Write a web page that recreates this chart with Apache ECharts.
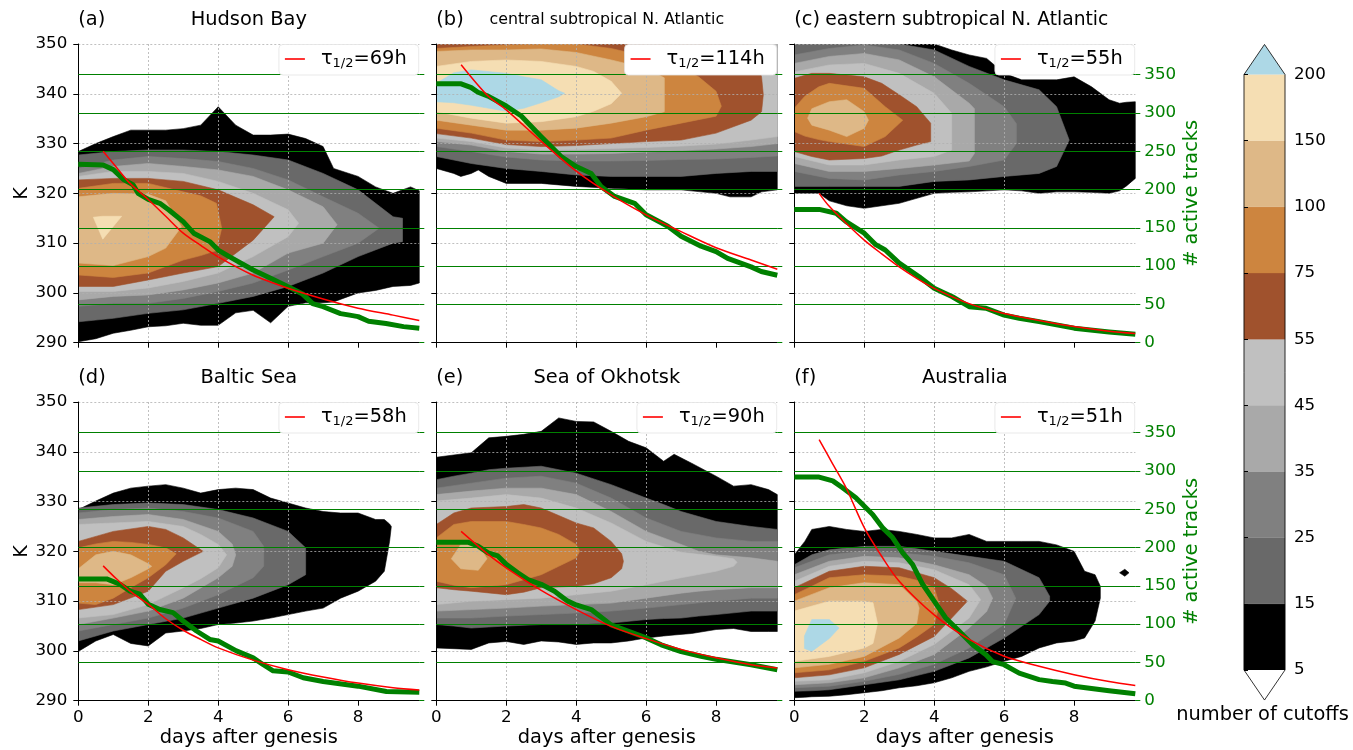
<!DOCTYPE html>
<html>
<head>
<meta charset="utf-8">
<script src="https://cdn.jsdelivr.net/npm/echarts@6/dist/echarts.min.js"></script>
<style>
html,body{margin:0;padding:0;background:#fff;}
#chart{width:1353px;height:750px;}
</style>
</head>
<body>
<div id="chart"></div>
<script>
// ---------------- DATA ----------------
const panelTags = ['(a)', '(b)', '(c)', '(d)', '(e)', '(f)'];
const panelTitles = ['Hudson Bay', 'central subtropical N. Atlantic', 'eastern subtropical N. Atlantic',
                     'Baltic Sea', 'Sea of Okhotsk', 'Australia'];
const halfLives = ['69h', '114h', '55h', '58h', '90h', '51h'];

const xTickValues = [0, 2, 4, 6, 8];
const trackTickValues = [0, 50, 100, 150, 200, 250, 300, 350];
const cbLabels = ['5', '15', '25', '35', '45', '55', '75', '100', '150', '200'];
// contour level colours: >=5, >=15, >=25, >=35, >=45, >=55, >=75, >=100, >=150, >=200
const levelColors = ['#000000', '#696969', '#808080', '#a9a9a9', '#c0c0c0',
                     '#a0522d', '#cd853f', '#deb887', '#f5deb3', '#add8e6'];

// contour regions: [levelIndex, [[day, lowerK, upperK], ...]]
const contA = [
  [0, [[0,290.2,328.4],[0.5,290.8,330],[1,291.9,331.4],[1.5,292.5,332.7],[2,293.2,332.7],[2.5,293.4,332.7],[3,293.9,333],[3.5,293.5,333.7],[4,293.5,337.4],[4.5,296,333.7],[5,296.5,331.7],[5.5,294,331.7],[6,297.3,331.9],[6.5,298,331],[7,298,329.4],[7.3,298.2,325],[8,300,323.4],[8.5,300.5,321.3],[9,301.3,320],[9.5,301.5,321.3],[9.75,302,320.5]]],
  [1, [[0,294.2,327.7],[1,294.9,328.4],[2,295.9,328.7],[3,296.6,328.7],[4,297.9,328.4],[5,299.3,327.7],[6,301.3,326.7],[7,304,324],[8,307.3,320.7],[9,310,315.3],[9.27,310.3,315]]],
  [2, [[0,297.3,325],[1,297.9,326.7],[2,297.9,327.4],[3,298.9,327],[4,300.3,326.4],[5,302,325],[6,304.6,322.7],[7,307.3,319.3],[8,310,316],[8.6,313,313]]],
  [3, [[0,298.6,324],[1,299.3,325.4],[2,299.6,326],[3,300.6,325.4],[4,302,324.7],[5,304,323.4],[6,308,320.7],[7,310,317.3],[7.4,313.7,313.7]]],
  [4, [[0,300.3,323.4],[1,300.3,324.4],[2,301,324.4],[3,302.3,324],[4,304,322.4],[5,307.3,320],[6,311.3,316.7],[6.3,314,314]]],
  [5, [[0,301.3,322.7],[1,301.3,323],[2,302.6,323],[3,304,322.4],[4,305.3,320.7],[5,310.6,317.7],[5.6,315.3,315.3]]],
  [6, [[0,303.6,321],[1,303.1,322],[2,304,322],[3,306.6,320.3],[3.5,307.5,319.5],[3.95,308.5,318],[4.1,313,313]]],
  [7, [[0,306,319.3],[1,305.5,320],[2,307.3,319.8],[2.5,309,318.5],[2.95,313.3,313.3]]],
  [8, [[0.43,315.2,315.2],[0.7,310.8,315.4],[1.24,315.4,315.4]]]
];
const contB = [
  [0, [[0,325,350],[0.3,324.4,350],[0.5,324,350],[0.7,323.4,350],[1,324,350],[1.2,324.7,350],[1.5,323.4,350],[2,322,350],[3,322,350],[4,321.4,350],[5,321,350],[6,320.7,350],[7,320.7,350],[8,320,350],[8.4,319.3,350],[9,319.3,350],[9.3,320.3,350],[9.75,320.7,350]]],
  [1, [[0,327.4,350],[1,326,350],[2,325,350],[3,324.4,350],[4,323.7,350],[5,323.4,350],[6,323.4,350],[7,323.4,350],[8,324,350],[9,324.4,350],[9.75,324.4,350]]],
  [2, [[0,329.4,350],[1,328.4,350],[2,327.3,350],[3,326.7,350],[4,326.5,350],[5,326.5,350],[6,326.6,350],[7,326.8,350],[8,326.9,350],[9,327.2,350],[9.75,327.5,350]]],
  [3, [[0,330.4,350],[1,329.7,350],[2,328.4,350],[3,327.9,350],[4,327.9,350],[5,328,350],[6,328.3,350],[7,328.6,350],[8,328.9,350],[9,329.4,350],[9.75,330,350]]],
  [4, [[0,331.1,350],[1,330.4,350],[2,329.1,350],[3,328.7,350],[4,328.8,350],[5,329,350],[6,329.2,350],[7,329.5,350],[8,329.9,350],[9,330.7,350],[9.75,331.4,350]]],
  [5, [[0,332,350],[1,331.1,350],[2,329.8,350],[3,329.4,350],[4,329.6,350],[5,330,350],[6,330.4,350],[7,330.7,350],[8,332.1,350],[9,334.7,350],[9.3,336.4,343.4],[9.35,339.8,339.8]]],
  [6, [[0,333.1,349.1],[1,332.1,349.5],[2,330.7,349.8],[3,330.4,350],[4,330.7,350],[5,331.1,349.1],[6,332.7,347.5],[7,334.1,345.1],[7.5,334.8,343.4],[8,335.5,340.5],[8.15,337.5,337.5]]],
  [7, [[0,334.7,348.5],[1,333.7,348.8],[2,332.7,348.8],[3,332.7,349],[4,333.1,348.3],[5,334.1,346.8],[6,335.4,345.1],[6.52,336.4,343.2]]],
  [8, [[0,336.4,345.5],[1,335.1,346.5],[2,334.1,346.8],[3,334.4,346.5],[4,335.4,345.5],[4.5,336.5,344.5],[5,338,342.5],[5.3,340.1,340.1]]],
  [9, [[0,338.4,342.1],[0.5,338.2,344.2],[1,337.7,344.8],[2,336.5,344.1],[2.5,337.1,343.4],[3,338.2,342.8],[3.5,339.4,340.6],[3.67,340.1,340.1]]]
];
const contC = [
  [0, [[0,320,350],[0.7,320,350],[1,318.5,350],[1.5,317.5,350],[2,317,350],[3,318,350],[4,320,350],[4.5,320.2,348.8],[5,320.3,347.8],[5.5,320.5,347.1],[6,320.7,344.1],[6.5,320.5,342.8],[7,320,342.8],[7.5,320.3,342.8],[8,320.3,343.4],[8.5,320.2,341.4],[9,320,338.8],[9.3,320.5,338.1],[9.5,321.5,338.3],[9.75,323,338.4]]],
  [1, [[0,321.4,350],[1,321.4,350],[2,321.4,350],[3,321.4,350],[4,322.4,348.8],[5,322.7,345.5],[6,323.4,342.8],[7,324,340.8],[7.5,325.4,337.4],[7.86,330.7,330.7]]],
  [2, [[0,324.4,347.8],[1,323,349.1],[2,322.7,349.8],[3,323.7,348.8],[4,324.4,346.1],[5,325.4,342.1],[6,326.7,337.4],[6.35,330,334]]],
  [3, [[0,326,346.1],[1,324.4,347.5],[2,324.4,348.1],[3,325,346.8],[4,325.7,343.4],[5,326.5,338.1],[5.15,328,337]]],
  [4, [[0,327.4,344.4],[1,325.7,345.8],[2,325.7,346.1],[3,326.7,344.1],[4,327.4,340.1],[4.5,328.7,336.1]]],
  [5, [[0,328.4,343.1],[0.5,327.4,344.1],[1,326.7,344.1],[2,327,343.4],[2.5,327.5,342.1],[3,328.7,339.8],[3.5,329.7,337.4],[3.9,330.4,334.1]]],
  [6, [[0,332.4,337.1],[0.3,331.5,339.5],[0.7,330.8,341.4],[1,330.4,342.1],[2,329.4,341.1],[2.6,331.4,337.4],[3.1,334.7,334.7]]],
  [7, [[0.38,335.1,335.1],[0.5,333.7,337],[1,332.7,338.4],[1.5,331.4,338.8],[2,333.1,336.4],[2.12,334.7,334.7]]]
];
const contD = [
  [0, [[0,299.9,328.4],[0.5,302,330.1],[1,303.3,331.7],[1.5,301.5,332.7],[2,301,333.1],[2.5,303.6,333.4],[3,304,332.7],[3.5,304.5,331.7],[4,305.3,332.4],[4.5,305.6,332.7],[5,306,332.4],[5.5,306.6,330.7],[6,307.3,329.7],[6.5,308,328.7],[7,308.6,328],[7.5,310.6,327.7],[8,312,327.7],[8.5,314,326.4],[8.75,316,326.4],[8.9,322,325.5],[8.95,325,325]]],
  [1, [[0,302,328.7],[1,304,329.4],[2,305.3,329.7],[3,306.6,329.4],[4,308.6,328.4],[5,310.6,326.7],[6,313.3,324],[6.5,315.3,320.7]]],
  [2, [[0,304,327.7],[1,305.3,328.4],[2,306.6,328.7],[3,308.6,328],[4,311.3,326.7],[5,314.7,324],[5.3,317,321]]],
  [3, [[0,305.3,326.4],[1,306.6,327],[2,308,327.4],[3,310.6,326.4],[4,314.7,324],[4.4,317,321.5],[4.5,319.3,319.3]]],
  [4, [[0,306.6,325.4],[1,307.3,325.7],[2,309.3,326],[3,312.7,325],[3.5,314.5,323.4],[4,316.7,321.4],[4.24,319.3,319.3]]],
  [5, [[0,308.3,322],[1,309.3,324],[2,312,325],[2.5,316,324.4],[3,318,322.7],[3.57,320,320]]],
  [6, [[0,309.6,320.7],[0.5,309.3,321.5],[1,310.6,322],[1.5,312.7,321.8],[2,314.7,321.4],[2.5,317.3,320.7],[2.8,319.5,319.5]]],
  [7, [[0,313.7,316.5],[0.5,313.7,319.3],[1,313.3,320],[1.5,314.7,319.3],[2,316.5,317.5],[2.1,317,317]]]
];
const contE = [
  [0, [[0,300.6,338.9],[1,300.3,339.8],[1.5,301.6,342.8],[2,301.9,343.1],[2.5,301.3,343.5],[3,302,344.1],[3.5,301.8,346.8],[4,301.3,346.1],[4.5,301.6,346],[5,301.6,344.1],[5.5,302,342.1],[6,302.6,340.8],[6.5,303,338.1],[6.8,303.2,339.5],[7.3,303.5,337.7],[8,304.3,335.1],[8.5,304.5,333.1],[9,303.9,333.4],[9.5,303.9,332.4],[9.75,303.9,331.4]]],
  [1, [[0,305.3,334.4],[0.5,305,335.1],[1,304.6,335.7],[1.5,304.8,336.4],[2,305,336.7],[3,305.3,337.1],[4,305.3,335.7],[5,305.6,333.4],[6,306.3,330.7],[6.5,306.5,329.4],[7,306.6,328],[7.5,307,327],[8,307.3,326],[9,308,325],[9.75,308,324.4]]],
  [2, [[0,306.6,332.7],[1,306.6,333.7],[2,307,334.7],[3,307.3,335.1],[4,307.6,333.7],[5,308,330.7],[6,308.6,326.7],[7,309.3,324],[8,310,322.7],[9,310.6,322],[9.75,310.6,322]]],
  [3, [[0,308,331.4],[1,308.3,332.1],[2,308.6,332.7],[3,309,332.7],[4,309.3,331.4],[5,309.6,328],[6,310.6,324],[7,311.6,321.4],[7.5,312,320],[8,312.3,319.3],[9,312.7,318.7],[9.75,312.7,318]]],
  [4, [[0,309.3,330.1],[1,310,330.7],[2,310.3,331.4],[3,310.6,330.7],[4,311.3,328.7],[5,312,325.7],[6,313.3,322],[7,314.7,319.8],[8,316,319],[8.5,317,318.5],[8.6,317.8,317.8]]],
  [5, [[0,312.7,325.4],[0.5,312.3,327.7],[1,312,328.7],[2,311.3,329],[2.5,311.8,329.4],[3,312.7,328.7],[4,313,325.7],[4.5,313.5,324.7],[5,314.7,322],[5.3,316.5,319.5],[5.35,318,318]]],
  [6, [[0,314,322.7],[0.5,313.2,325.4],[1,312.7,326],[2,313.3,326],[2.5,314.3,325.4],[3,315.3,324.7],[3.5,317,323.4],[4,318.7,321.4],[4.1,320,320]]],
  [7, [[0.43,318.5,318.5],[0.7,316.5,321.4],[1.2,316.2,321.4],[1.45,318.5,318.5]]]
];
const contF = [
  [0, [[0,290.6,319.3],[0.3,290.7,322],[0.5,290.8,324.4],[1,290.9,325],[1.5,291.2,324.4],[2,291.6,324],[2.5,292,324.4],[3,292.6,324],[3.5,293,323.4],[4,293.6,322.7],[4.5,294.6,322.7],[5,295.9,323.4],[5.5,296.8,322],[6,297.9,322],[6.5,298.9,322],[7,300.6,322],[7.5,301.6,321.3],[8,302,320],[8.3,302.6,316],[8.6,306,315.3],[8.75,310.6,313]]],
  [0, [[9.3,315.7,315.7],[9.45,315,316.4],[9.57,315.7,315.7]]],
  [1, [[0,291.9,317.3],[0.5,292,319.3],[1,292.2,320.3],[2,293.2,321],[3,294.2,321],[4,295.9,320],[5,298.6,319],[6,302.6,318],[7,307.3,314.7],[7.3,310,311]]],
  [2, [[0,292.6,316.7],[1,292.9,319.3],[2,293.9,320],[3,295.3,319.7],[4,297.3,319],[5,300.6,317.7],[6,305.3,315.3],[6.33,310.6,310.6]]],
  [3, [[0,293.2,315.3],[1,293.6,318],[2,294.6,319],[3,296.6,318.7],[4,299.3,317.3],[5,304.6,315.3],[5.5,307.9,313],[5.67,310.6,310.6]]],
  [4, [[0,293.9,314],[1,294.2,317],[2,295.6,318],[3,297.9,317.7],[4,301.3,316.3],[5,306.6,313.3],[5.33,310.3,310.3]]],
  [5, [[0,294.6,312.7],[1,295.2,316],[2,296.6,317],[3,299.3,316.7],[4,302.9,314.7],[4.5,306.6,312.5],[4.95,310,310]]],
  [6, [[0,295.6,311.3],[1,296.2,314.7],[2,297.9,315.3],[3,300.6,315],[3.5,302.8,314.2],[4,305.3,312.7],[4.15,309.3,309.3]]],
  [7, [[0,296.6,310],[1,297.3,312.7],[2,298.9,313.7],[3,302.6,313.3],[3.5,305.5,310],[3.57,308.6,308.6]]],
  [8, [[0,297.9,308],[1,298.9,310],[2,300.6,310],[2.25,301.5,309.7],[2.38,305.5,305.5]]],
  [9, [[0.29,300.5,303],[0.5,299.9,306.3],[1,302.5,306.3],[1.28,304.6,304.6]]]
];

// number of active tracks (green) and half-life fits (red): [day, tracks]
const tracksA = [[0,233],[0.71,232],[1,226],[1.3,213],[1.57,206],[1.71,195],[2,187],[2.33,182],[2.6,173],[3,158],[3.3,143],[3.76,132],[4,121],[4.33,112],[5,95],[5.5,84],[6,73],[6.4,64],[6.7,51],[7,47],[7.5,38],[7.76,36],[8,34],[8.3,28],[8.8,25],[9.3,21],[9.75,19]];
const fitA = [[0.71,250],[1,234],[1.48,208],[2,187],[2.5,165],[3,143],[3.5,127],[4,112],[5,88],[6,71],[7,57],[8,45],[9,36],[9.75,29]];
const tracksB = [[0,338],[0.71,338],[1,333],[1.19,327],[1.48,322],[2,309],[2.43,296],[3,269],[3.57,243],[4,230],[4.43,221],[4.71,204],[5.1,191],[5.67,182],[6,167],[6.62,152],[7,139],[7.57,126],[8,119],[8.33,110],[9,99],[9.29,93],[9.75,88]];
const fitB = [[0.71,363],[1.48,322],[2,304],[3,263],[4,224],[5,193],[6,167],[7,145],[8,124],[9,108],[9.75,96]];
const tracksC = [[0,174],[0.71,174],[1.2,169],[1.48,158],[2,143],[2.33,128],[2.6,121],[3,104],[3.57,86],[4,71],[4.52,60],[5,47],[5.48,45],[6,36],[6.43,32],[7,27.5],[8,19],[9,14],[9.75,11]];
const fitC = [[0.71,195],[1,178],[1.48,156],[2,134],[2.5,116],[3,99],[3.5,84],[4,71],[5,51],[6,38],[7,29],[8,21],[9,15],[9.75,12]];
const tracksD = [[0,159],[0.81,159],[1.19,152],[1.48,143],[1.76,139],[2,126],[2.33,119],[2.71,115],[3,104],[3.38,91],[3.76,80],[4,78],[4.52,65],[5,56],[5.29,47],[5.57,39],[6,37.5],[6.43,30],[7,25],[8,19],[8.81,12],[9.75,11]];
const fitD = [[0.71,176],[1,163],[1.48,143],[2,126],[2.5,107],[3,92],[3.5,80],[4,69],[5,53],[6,40.5],[7,31],[8,23],[9,17],[9.75,14]];
const tracksE = [[0,207],[0.9,207],[1.19,202],[1.48,193],[1.76,189],[2,178],[2.33,167],[2.62,158],[3,152],[3.38,143],[3.76,130],[4,125],[4.43,119],[5,99],[5.48,91],[6,82],[6.43,73],[7,64],[7.57,58],[8,54],[9,47],[9.75,40.5]];
const fitE = [[0.71,221],[1.48,191],[2,173.5],[3,144],[4,119],[5,97],[6,81],[7,67],[8,56],[9,47],[9.75,42.7]];
const tracksF = [[0,292],[0.71,292],[1.1,287],[1.38,278],[1.76,265],[2.24,243],[2.52,226],[2.81,213],[3.1,193],[3.38,178],[3.67,152],[4,130],[4.33,108],[4.71,91],[5.1,73],[5.48,60],[5.67,51],[6,47],[6.43,36],[7,27.5],[7.38,25],[7.76,23],[8,19],[8.33,17],[9,13],[9.75,9]];
const fitF = [[0.71,341],[1.1,309],[1.48,278],[2,226],[2.52,187],[3,156],[4,112],[5,80],[6,58],[7,45],[8,34],[9,25],[9.75,20]];

const contours = [contA, contB, contC, contD, contE, contF];
const tracks = [tracksA, tracksB, tracksC, tracksD, tracksE, tracksF];
const fits = [fitA, fitB, fitC, fitD, fitE, fitF];

// ---------------- LAYOUT / STYLE ----------------
const FONT = 'DejaVu Sans';
const TICK_FS = 16.7, LABEL_FS = 19.4;
const TITLE_FS = [19.4, 15.8, 18.7, 19.4, 19.4, 19.4];
const TITLE_DX = [0, 0, 2, 0, 0, 0];
const COL_LEFT = [78.3, 436.3, 794.3];
const ROW_TOP = [44, 402];
const PW = 341, PH = 298.7;
const GREEN = '#008000';
const CB = { left: 1244, top: 74.5, width: 41, height: 595.5, ext: 0.454 };

function contourRender(polys) {
  return function (params, api) {
    const poly = polys[params.dataIndex];
    const lv = poly[0], pts = poly[1];
    const upper = pts.map(p => api.coord([p[0], p[2]]));
    const lower = pts.slice().reverse().map(p => api.coord([p[0], p[1]]));
    return {
      type: 'polygon',
      z2: params.dataIndex,
      shape: { points: upper.concat(lower) },
      style: { fill: levelColors[lv], stroke: levelColors[lv], lineWidth: 0.6 }
    };
  };
}

function colorbarRender(params, api) {
  const i = params.dataIndex;
  const n = cbLabels.length - 1;
  if (i < n) {
    const p0 = api.coord([0, i]), p1 = api.coord([1, i + 1]);
    return { type: 'rect', shape: { x: p0[0], y: p1[1], width: p1[0] - p0[0], height: p0[1] - p1[1] },
             style: { fill: levelColors[i], stroke: levelColors[i], lineWidth: 0.3 } };
  }
  if (i === n) {
    return { type: 'polygon', shape: { points: [api.coord([0, n]), api.coord([1, n]), api.coord([0.5, n + CB.ext])] },
             style: { fill: levelColors[9] } };
  }
  if (i === n + 1) {
    return { type: 'polygon', shape: { points: [api.coord([0, 0]), api.coord([1, 0]), api.coord([0.5, -CB.ext])] },
             style: { fill: '#ffffff' } };
  }
  return { type: 'polygon', z2: 20, shape: { points: [api.coord([0, 0]), api.coord([0.5, -CB.ext]), api.coord([1, 0]),
           api.coord([1, n]), api.coord([0.5, n + CB.ext]), api.coord([0, n])] },
           style: { fill: 'none', stroke: '#000', lineWidth: 0.8 } };
}

const option = {
  animation: false,
  backgroundColor: '#ffffff',
  textStyle: { fontFamily: FONT },
  grid: [], xAxis: [], yAxis: [], series: [], legend: [], graphic: []
};

for (let i = 0; i < 6; i++) {
  const col = i % 3, row = Math.floor(i / 3);
  const left = COL_LEFT[col], top = ROW_TOP[row];
  option.grid.push({ left: left, top: top, width: PW, height: PH, containLabel: false, outerBoundsMode: 'none' });
  option.xAxis.push({
    gridIndex: i, type: 'value', min: 0, max: 9.75, interval: 2, z: 3,
    axisLine: { show: true, onZero: false, lineStyle: { color: '#000', width: 1 } },
    axisTick: { show: true, length: 5, customValues: xTickValues, lineStyle: { color: '#000', width: 1 } },
    axisLabel: { show: row === 1, customValues: xTickValues, margin: 8, color: '#000', fontSize: TICK_FS, fontFamily: FONT },
    splitLine: { show: true, showMinLine: false, showMaxLine: false, lineStyle: { color: '#b0b0b0', width: 0.8, type: [2, 2] } },
    name: row === 1 ? 'days after genesis' : '', nameLocation: 'middle', nameGap: 28,
    nameTextStyle: { fontSize: LABEL_FS, color: '#000', fontFamily: FONT }
  });
  option.yAxis.push({
    gridIndex: i, type: 'value', min: 290, max: 350, interval: 10, position: 'left', z: 3,
    axisLine: { show: true, onZero: false, lineStyle: { color: '#000', width: 1 } },
    axisTick: { show: true, length: 5, lineStyle: { color: '#000', width: 1 } },
    axisLabel: { show: col === 0, margin: 11, color: '#000', fontSize: TICK_FS, fontFamily: FONT },
    splitLine: { show: true, showMinLine: false, lineStyle: { color: '#b0b0b0', width: 0.8, type: [2, 2] } },
    name: col === 0 ? 'K' : '', nameLocation: 'middle', nameRotate: 90, nameGap: 47,
    nameTextStyle: { fontSize: LABEL_FS, color: '#000', fontFamily: FONT }
  });
  option.yAxis.push({
    gridIndex: i, type: 'value', min: 0, max: 390, interval: 50, position: 'right', z: 3,
    axisLine: { show: false, onZero: false },
    axisTick: { show: true, length: 5, customValues: trackTickValues, lineStyle: { color: GREEN, width: 1 } },
    axisLabel: { show: col === 2, customValues: trackTickValues, margin: 9, color: GREEN, fontSize: TICK_FS, fontFamily: FONT },
    splitLine: { show: false },
    name: col === 2 ? '# active tracks' : '', nameLocation: 'middle', nameRotate: 90, nameGap: 47,
    nameTextStyle: { fontSize: LABEL_FS, color: GREEN, fontFamily: FONT }
  });
  const polys = contours[i];
  option.series.push({
    type: 'custom', xAxisIndex: i, yAxisIndex: 2 * i, z: 1, clip: true, silent: true,
    renderItem: contourRender(polys),
    data: polys.map(p => [p[1][0][0], p[1][0][1]])
  });
  option.series.push({
    type: 'line', name: 'tracks' + i, xAxisIndex: i, yAxisIndex: 2 * i + 1, z: 5, silent: true,
    symbol: 'none', data: tracks[i], lineStyle: { color: GREEN, width: 5, join: 'round' }, itemStyle: { color: GREEN },
    markLine: {
      silent: true, symbol: 'none', z: 4, label: { show: false }, animation: false,
      lineStyle: { color: GREEN, width: 1, type: 'solid', opacity: 1 },
      emphasis: { disabled: true },
      data: trackTickValues.filter(v => v > 0).map(v => ({ yAxis: v }))
    }
  });
  option.series.push({
    type: 'line', name: 'fit' + i, xAxisIndex: i, yAxisIndex: 2 * i + 1, z: 6, silent: true,
    symbol: 'none', smooth: 0.3, data: fits[i], lineStyle: { color: '#ff0000', width: 1.5 }, itemStyle: { color: '#ff0000' }
  });
  const tau = halfLives[i];
  option.legend.push({
    data: ['fit' + i], selectedMode: false, z: 10,
    right: 1353 - (left + PW) + 0.6, top: top + 0.5,
    backgroundColor: '#ffffff', borderColor: '#e3e3e3', borderWidth: 0.8, borderRadius: 4,
    padding: [5, 12, 5, 6], itemWidth: 20, itemHeight: 1.6, icon: 'rect',
    itemStyle: { color: '#ff0000', borderWidth: 0 },
    formatter: function () { return '{g|}τ{s|1/2}=' + tau; },
    textStyle: { fontSize: LABEL_FS, color: '#000', fontFamily: FONT,
      rich: { g: { width: 11 }, s: { fontSize: 13, fontFamily: FONT, color: '#000', padding: [9, 0, 0, 0] } } }
  });
  option.graphic.push({ type: 'text', x: left, y: top - 24, silent: true,
    style: { text: panelTags[i], fontSize: LABEL_FS, fontFamily: FONT, fill: '#000',
             align: 'left', verticalAlign: 'middle', textAlign: 'left', textVerticalAlign: 'middle' } });
  option.graphic.push({ type: 'text', x: left + PW / 2 + TITLE_DX[i], y: top - 24, silent: true,
    style: { text: panelTitles[i], fontSize: TITLE_FS[i], fontFamily: FONT, fill: '#000',
             align: 'center', verticalAlign: 'middle', textAlign: 'center', textVerticalAlign: 'middle' } });
}

// colour bar
option.grid.push({ left: CB.left, top: CB.top, width: CB.width, height: CB.height, containLabel: false, outerBoundsMode: 'none' });
option.xAxis.push({ gridIndex: 6, type: 'value', min: 0, max: 1, show: false });
option.yAxis.push({
  gridIndex: 6, type: 'value', min: 0, max: cbLabels.length - 1, interval: 1, position: 'right', z: 3,
  axisLine: { show: false },
  axisTick: { show: true, length: 4, lineStyle: { color: '#000', width: 1 } },
  axisLabel: { show: true, margin: 9, color: '#000', fontSize: TICK_FS, fontFamily: FONT,
               formatter: function (v) { return cbLabels[Math.round(v)]; } },
  splitLine: { show: false }
});
option.series.push({
  type: 'custom', xAxisIndex: 6, yAxisIndex: 12, z: 2, clip: false, silent: true,
  renderItem: colorbarRender,
  data: levelColors.slice(0, cbLabels.length - 1).map((c, k) => [0.5, k + 0.5]).concat([[0.5, 9.2], [0.5, -0.2], [0.5, 4.5]])
});
option.graphic.push({ type: 'text', x: CB.left + CB.width / 2 - 2, y: 715, silent: true,
  style: { text: 'number of cutoffs', fontSize: LABEL_FS, fontFamily: FONT, fill: '#000',
           align: 'center', verticalAlign: 'middle', textAlign: 'center', textVerticalAlign: 'middle' } });

const chart = echarts.init(document.getElementById('chart'), null, { renderer: 'canvas' });
chart.setOption(option);
</script>
</body>
</html>
